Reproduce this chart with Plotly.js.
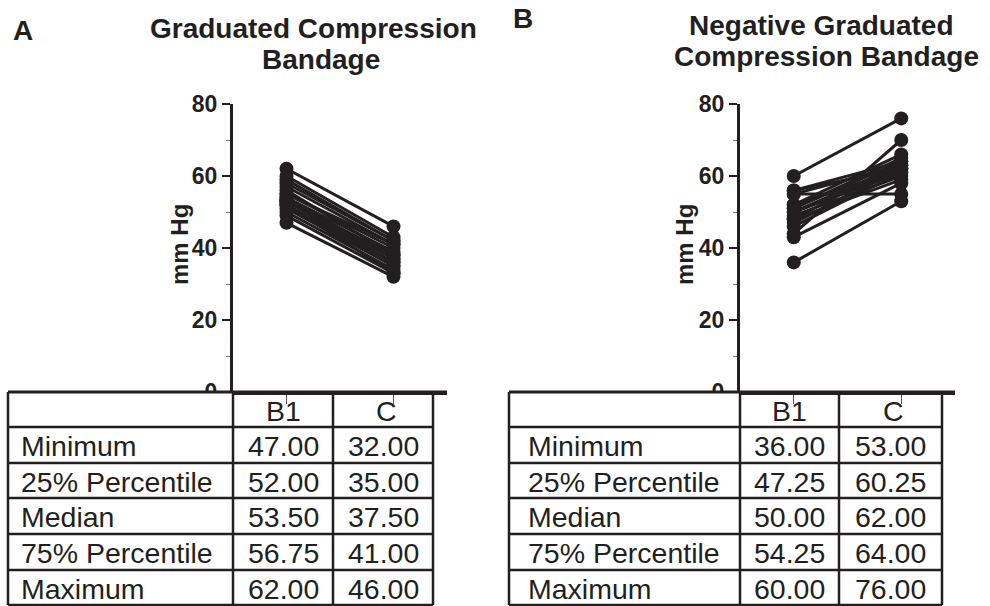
<!DOCTYPE html>
<html><head><meta charset="utf-8">
<script src="https://cdn.plot.ly/plotly-3.0.1.min.js"></script>
<style>html,body{margin:0;padding:0;background:#fff}#chart{width:990px;height:606px}</style>
</head><body><div id="chart"></div>
<script>
// ---- data ----
const categories = ['B1', 'C'];
// Panel A: Graduated Compression Bandage (paired readings, mm Hg)
const gradB1 = [62, 60, 59, 58, 57, 56, 55, 55, 54, 54, 53, 53, 53, 52, 52, 52, 51, 50, 49, 47];
const gradC  = [46, 43, 42, 42, 41, 38, 41, 40, 39, 37, 38, 36, 37, 35, 36, 33, 35, 34, 33, 32];
// Panel B: Negative Graduated Compression Bandage
const negB1 = [60, 56, 56, 55, 55, 52, 52, 51, 51, 50, 50, 50, 49, 48, 48, 47, 46, 44, 43, 36];
const negC  = [76, 62, 64, 55, 63, 66, 62, 65, 64, 61, 62, 63, 60, 64, 59, 62, 61, 70, 58, 53];
// Summary tables
const statLabels = ['Minimum', '25% Percentile', 'Median', '75% Percentile', 'Maximum'];
const gradStatB1 = ['47.00', '52.00', '53.50', '56.75', '62.00'];
const gradStatC  = ['32.00', '35.00', '37.50', '41.00', '46.00'];
const negStatB1  = ['36.00', '47.25', '50.00', '54.25', '60.00'];
const negStatC   = ['53.00', '60.25', '62.00', '64.00', '76.00'];
const yTicks = [0, 20, 40, 60, 80];

// ---- helpers ----
const W = 990, H = 606;
const INK = '#231f20';
const FONT = 'Liberation Sans, Arial, Helvetica, sans-serif';
const px = x => x / W;
const py = y => 1 - y / H;

function pairTrace(b1, c, xa, ya) {
  const xs = [], ys = [];
  for (let i = 0; i < b1.length; i++) {
    xs.push(categories[0], categories[1], null);
    ys.push(b1[i], c[i], null);
  }
  return {
    type: 'scatter', mode: 'lines+markers', x: xs, y: ys, xaxis: xa, yaxis: ya,
    connectgaps: false, showlegend: false, hoverinfo: 'y',
    line: {color: INK, width: 3},
    marker: {color: INK, size: 14}
  };
}

const data = [
  pairTrace(gradB1, gradC, 'x', 'y'),
  pairTrace(negB1, negC, 'x2', 'y2')
];

function xAxis(d0, d1, anchor) {
  return {
    domain: [px(d0), px(d1)], anchor: anchor, type: 'category',
    categoryarray: categories, range: [-0.5, 1.5],
    showline: true, linecolor: INK, linewidth: 3,
    ticks: 'outside', ticklen: 9, tickwidth: 1, tickcolor: '#555',
    showticklabels: false, showgrid: false, zeroline: false, fixedrange: true
  };
}
function yAxis(anchor) {
  return {
    domain: [py(392), py(104)], anchor: anchor, range: [0, 80],
    tickvals: yTicks, ticktext: yTicks.map(String),
    showline: true, linecolor: INK, linewidth: 3,
    ticks: 'outside', ticklen: 8, tickwidth: 2.5, tickcolor: INK,
    minor: {tickvals: [10, 30, 50, 70], ticks: 'outside', ticklen: 4, tickwidth: 1, tickcolor: '#777'},
    tickfont: {family: FONT, size: 23, color: INK, weight: 700},
    showgrid: false, zeroline: false, fixedrange: true
  };
}

const shapes = [];
const annotations = [];
const rowEdges = [392, 427, 463, 498, 534, 570, 605];

function table(cols, axisEnd, labelX, b1Vals, cVals) {
  // white header cell for label column (hides lower half of the 0 label)
  shapes.push({type: 'rect', xref: 'paper', yref: 'paper', layer: 'above',
    x0: px(cols[0]), x1: px(cols[1]), y0: py(rowEdges[1]), y1: py(rowEdges[0]),
    fillcolor: '#fff', line: {width: 0}});
  // horizontal lines
  rowEdges.forEach((y, i) => {
    shapes.push({type: 'line', xref: 'paper', yref: 'paper', layer: 'above',
      x0: px(cols[0]), x1: px(i === 0 ? axisEnd : cols[3]), y0: py(y), y1: py(y),
      line: {color: INK, width: i === 0 ? 3 : 2.5}});
  });
  // vertical lines
  cols.forEach(x => {
    shapes.push({type: 'line', xref: 'paper', yref: 'paper', layer: 'above',
      x0: px(x), x1: px(x), y0: py(rowEdges[0]), y1: py(rowEdges[rowEdges.length - 1]),
      line: {color: INK, width: 2.5}});
  });
  const tf = {family: FONT, size: 28.5, color: INK};
  // header
  [b1Vals, cVals].forEach((_, j) => {
    annotations.push({xref: 'paper', yref: 'paper', x: px((cols[j + 1] + cols[j + 2]) / 2 + (j ? 3 : 0)),
      y: py((rowEdges[0] + rowEdges[1]) / 2 + 1), xanchor: 'center', yanchor: 'middle',
      text: categories[j], showarrow: false, font: tf});
  });
  statLabels.forEach((lab, i) => {
    const yc = py((rowEdges[i + 1] + rowEdges[i + 2]) / 2 + 1);
    annotations.push({xref: 'paper', yref: 'paper', x: px(labelX), y: yc,
      xanchor: 'left', yanchor: 'middle', text: lab, showarrow: false, font: tf});
    annotations.push({xref: 'paper', yref: 'paper', x: px((cols[1] + cols[2]) / 2), y: yc,
      xanchor: 'center', yanchor: 'middle', text: b1Vals[i], showarrow: false, font: tf});
    annotations.push({xref: 'paper', yref: 'paper', x: px((cols[2] + cols[3]) / 2), y: yc,
      xanchor: 'center', yanchor: 'middle', text: cVals[i], showarrow: false, font: tf});
  });
}

table([8, 233, 333, 433], 447, 19, gradStatB1, gradStatC);
table([509, 740, 839, 942], 955, 526, negStatB1, negStatC);

function txt(x, y, t, size, extra) {
  annotations.push(Object.assign({xref: 'paper', yref: 'paper', x: px(x), y: py(y),
    xanchor: 'center', yanchor: 'middle', text: t, showarrow: false,
    font: {family: FONT, size: size, color: INK, weight: 700}}, extra || {}));
}
// panel letters and titles
txt(23, 30, 'A', 28);
txt(523, 18, 'B', 28);
txt(313, 28, 'Graduated Compression', 28);
txt(321, 59, 'Bandage', 28);
txt(821, 25, 'Negative Graduated', 28);
txt(826, 57, 'Compression Bandage', 28);
// y axis titles
txt(179, 245, 'mm Hg', 24, {textangle: -90});
txt(684, 245, 'mm Hg', 24, {textangle: -90});

const layout = {
  width: W, height: H, margin: {l: 0, r: 0, t: 0, b: 0},
  paper_bgcolor: '#fff', plot_bgcolor: 'rgba(0,0,0,0)',
  font: {family: FONT, color: INK},
  showlegend: false,
  xaxis: xAxis(233, 447, 'y'), yaxis: yAxis('x'),
  xaxis2: xAxis(740, 955, 'y2'), yaxis2: yAxis('x2'),
  shapes: shapes, annotations: annotations
};

Plotly.newPlot('chart', data, layout, {displayModeBar: false, staticPlot: true});
</script>
</body></html>
